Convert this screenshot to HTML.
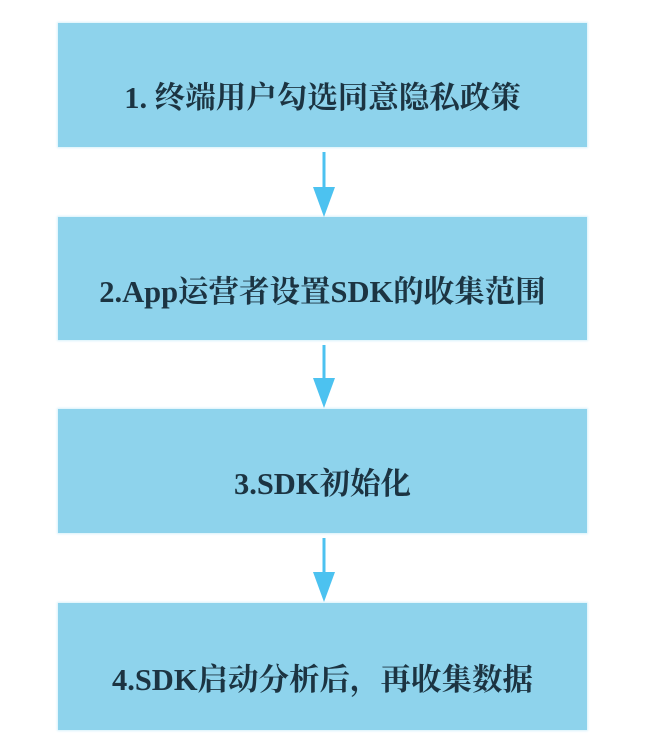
<!DOCTYPE html>
<html><head><meta charset="utf-8"><style>
html,body{margin:0;padding:0;background:#fff;width:648px;height:751px;overflow:hidden;position:relative}
.b{position:absolute;left:58px;width:529px;background:#8ed3ec;box-shadow:0 0 2px 1px #d8f1fa;
font-family:"Liberation Serif","Noto Serif CJK SC",serif;font-weight:bold;font-size:30.5px;color:#1c3442;
display:flex;align-items:center;justify-content:center;box-sizing:border-box;padding-top:20px}
svg{position:absolute;left:0;top:0}
</style></head><body>
<div class="b" style="top:23px;height:124px">1. 终端用户勾选同意隐私政策</div>
<div class="b" style="top:217px;height:123px">2.App运营者设置SDK的收集范围</div>
<div class="b" style="top:409px;height:124px">3.SDK初始化</div>
<div class="b" style="top:603px;height:127px">4.SDK启动分析后，再收集数据</div>
<svg width="648" height="751">
<g fill="#4cc2f0" stroke="#4cc2f0">
<line x1="324" y1="152" x2="324" y2="190" stroke-width="3"/><polygon points="313,187 335,187 324,217" stroke="none"/>
<line x1="324" y1="345" x2="324" y2="380" stroke-width="3"/><polygon points="313,378 335,378 324,408" stroke="none"/>
<line x1="324" y1="538" x2="324" y2="574" stroke-width="3"/><polygon points="313,572 335,572 324,602" stroke="none"/>
</g></svg>
</body></html>
